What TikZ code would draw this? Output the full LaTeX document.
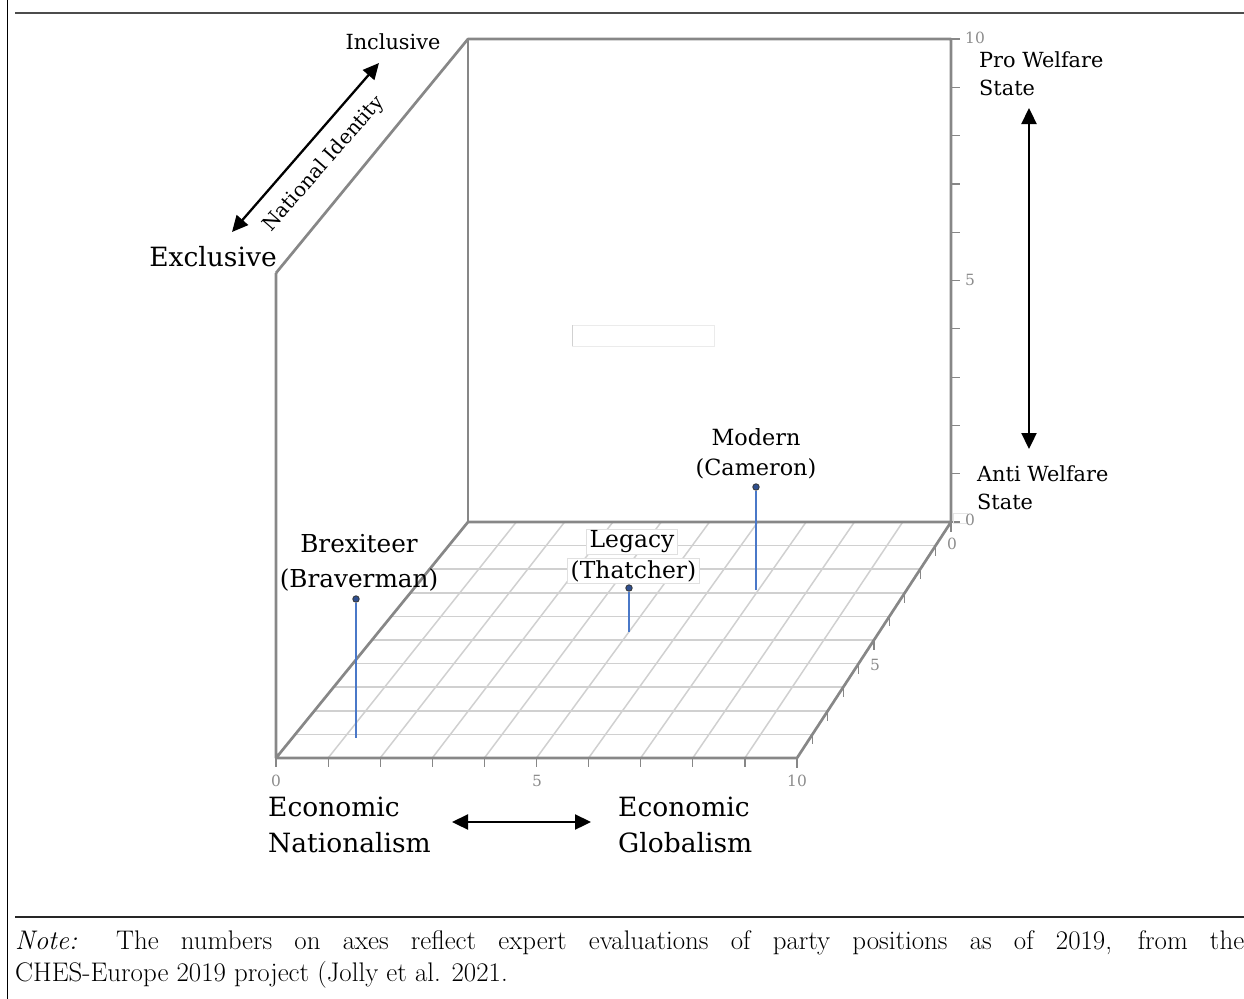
\documentclass[tikz,border=0pt]{standalone}
\usepackage{fontspec}
\newfontfamily\geo{DejaVu Serif}
\usetikzlibrary{arrows.meta}
\definecolor{axisgray}{HTML}{878787}
\definecolor{gridgray}{HTML}{D0D0D0}
\definecolor{stemblue}{HTML}{4A78C8}
\definecolor{dotblue}{HTML}{2F4F8F}
\definecolor{ticktext}{HTML}{8C8C8C}
\tikzset{
  wall/.style={draw=axisgray, line width=2.7bp, line join=round},
  gridline/.style={draw=gridgray, line width=1.5bp},
  tickmark/.style={draw=axisgray, line width=1.2bp},
  ticklabel/.style={text=ticktext, font=\geo\fontsize{15.5}{17}\selectfont, inner sep=0pt},
  stem/.style={draw=stemblue, line width=1.8bp},
  dot/.style={circle, fill=dotblue, draw=black!80, line width=0.8bp, minimum size=6.5bp, inner sep=0pt},
  biglabel/.style={font=\geo\fontsize{26.6}{36}\selectfont, align=left, inner sep=0pt},
  midlabel/.style={font=\geo\fontsize{20.9}{28}\selectfont, align=left, inner sep=0pt},
  ptlabel/.style={align=center, inner sep=0pt},
  boxlabel/.style={font=\geo\fontsize{23.5}{26}\selectfont, fill=white, draw=black!12, line width=0.6bp, inner xsep=3bp, inner ysep=1.5bp},
  dbl/.style={{Triangle[length=16bp,width=15bp]}-{Triangle[length=16bp,width=15bp]}, line width=2.3bp, black}
}
\begin{document}
\begin{tikzpicture}[x=1bp,y=-1bp]
\useasboundingbox (0,0) rectangle (1244,999);

% page frame and rules
\draw[black, line width=1.3bp] (7.3,0) -- (7.3,999);
\draw[black!70, line width=1.8bp] (15,13) -- (1244,13);
\draw[black!85, line width=1.4bp] (15,917) -- (1244,917);

% cube corners
\coordinate (BL) at (468,522);
\coordinate (BR) at (951,522);
\coordinate (FL) at (276,758);
\coordinate (FR) at (797,758);
\coordinate (TL) at (468,39);
\coordinate (TR) at (951,39);
\coordinate (LT) at (276,273);

% floor grid
\foreach \u in {1,...,9}
  \draw[gridline] ({468+48.3*\u},522) -- ({276+52.1*\u},758);
\foreach \v in {1,...,9}
  \draw[gridline] ({468-19.2*\v},{522+23.6*\v}) -- ({951-15.4*\v},{522+23.6*\v});

% empty legend box
\draw[black!8, line width=0.8bp] (572,325) rectangle (714,346);
\draw[black!18, line width=1bp] (572,325) -- (572,346);

% tick marks
\foreach \u in {0,...,10}
  \draw[tickmark] ({276+52.1*\u},758) -- ++(0,9);
\foreach \k in {0,...,10}
  \draw[tickmark] (951,{522-48.3*\k}) -- ++(9,0);
\foreach \v in {0,...,10}
  \draw[tickmark] ({951-15.4*\v},{522+23.6*\v}) -- ++(0,10);
\draw[black!10, line width=0.8bp] (953,513) rectangle (967,523);

% walls and floor outline
\draw[wall] (LT) -- (FL) -- (FR) -- (BR) -- (BL) -- (FL);
\draw[wall] (LT) -- (TL) -- (TR) -- (BR);
\draw[wall] (TL) -- (BL);

% tick labels
\node[ticklabel] (x0) at (276,781) {0};
\node[ticklabel] (x5) at (537,781) {5};
\node[ticklabel] (x10) at (797,781) {10};
\node[ticklabel] (d0) at (952,544) {0};
\node[ticklabel] (d5) at (875,665) {5};
\node[ticklabel] (z0) at (970,520) {0};
\node[ticklabel] (z5) at (970,280) {5};
\node[ticklabel] (z10) at (975,38) {10};

% party positions
\coordinate (bfoot) at (356,738);
\coordinate (lfoot) at (629,632);
\coordinate (mfoot) at (756,590);
\node[dot] (bdot) at (356,599) {};
\node[dot] (ldot) at (629,588) {};
\node[dot] (mdot) at (756,487) {};
\draw[stem] (bdot) -- (bfoot);
\draw[stem] (ldot) -- (lfoot);
\draw[stem] (mdot) -- (mfoot);

\node[ptlabel, font=\geo\fontsize{24.8}{35}\selectfont] (brex) at (359,563) {Brexiteer\\(Braverman)};
\node[ptlabel, font=\geo\fontsize{22.4}{30}\selectfont] (modern) at (756,454) {Modern\\(Cameron)};
\node[boxlabel] (legacy) at (632,541.5) {Legacy};
\node[boxlabel] (thatcher) at (633.5,571) {(Thatcher)};

% axis descriptions
\node[midlabel] (incl) at (393,42) {Inclusive};
\node[biglabel] (excl) at (213,257) {Exclusive};
\coordinate (niA) at (232,232);
\coordinate (niB) at (379,63);
\draw[dbl] (niA) -- (niB);
\node[midlabel, font=\geo\fontsize{20}{24}\selectfont, rotate=48.8] (nid) at (324,164) {National Identity};

\node[midlabel, anchor=west] (pro) at (979,74) {Pro Welfare\\State};
\node[midlabel, anchor=west] (anti) at (977,488) {Anti Welfare\\State};
\coordinate (wA) at (1029,108);
\coordinate (wB) at (1029,449);
\draw[dbl] (wA) -- (wB);

\node[biglabel, anchor=west] (enat) at (268,825) {Economic\\Nationalism};
\node[biglabel, anchor=west] (eglob) at (618,825) {Economic\\Globalism};
\coordinate (eA) at (452,822);
\coordinate (eB) at (591,822);
\draw[dbl] (eA) -- (eB);

% note below the figure
\node[anchor=north west, inner sep=0pt, align=left, font=\fontsize{27}{33}\selectfont] (note) at (15,930)
  {\makebox[1229bp][s]{\textit{Note:} The numbers on axes reflect expert evaluations of party positions as of 2019, from the}\\
   CHES-Europe 2019 project (Jolly et al. 2021.};
\end{tikzpicture}
\end{document}
